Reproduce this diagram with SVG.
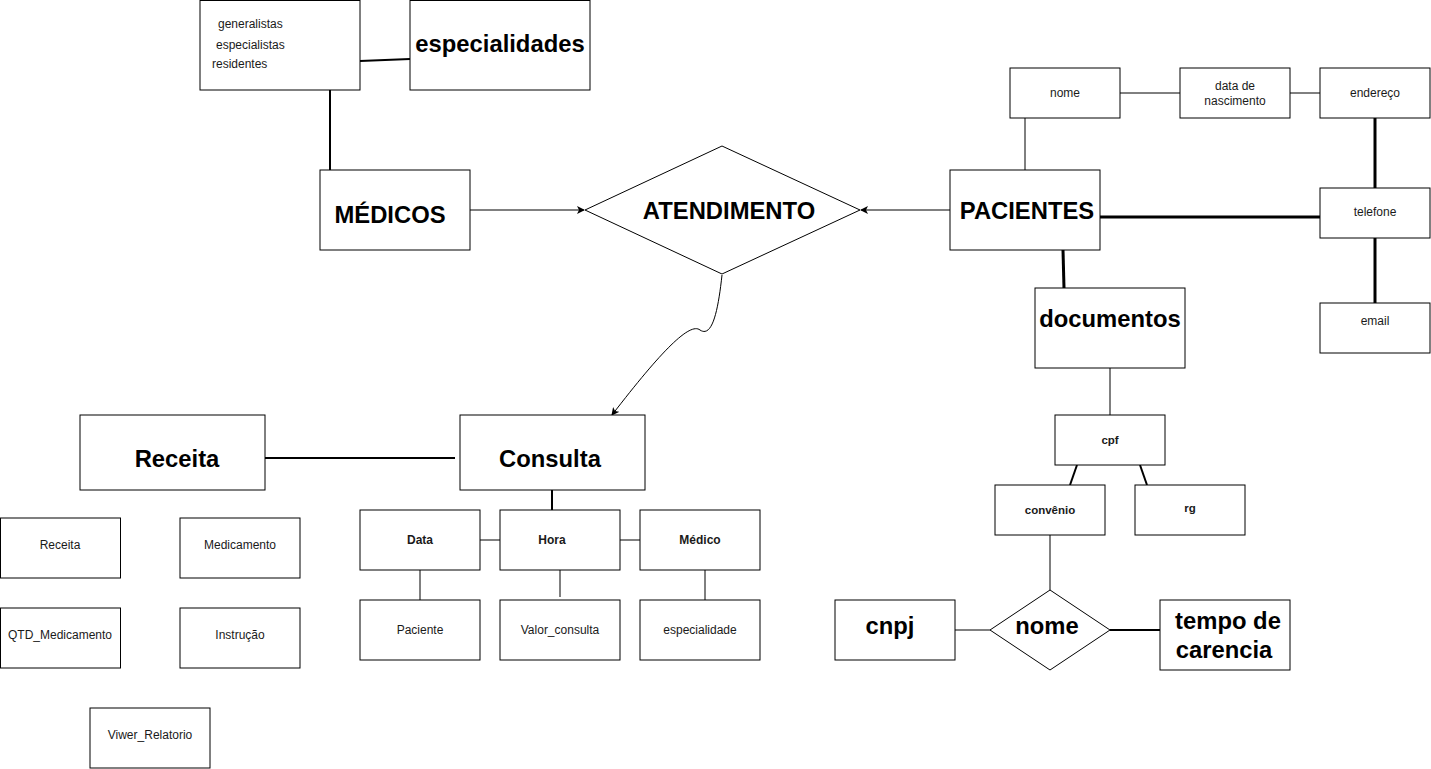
<svg xmlns="http://www.w3.org/2000/svg" width="1431" height="769" viewBox="0 0 1431 769">
<style>
.b{fill:#fff;stroke:#000;stroke-width:1}
.t{font-family:"Liberation Sans",Arial,sans-serif;font-size:12px;fill:#1a1a1a;text-anchor:middle;dominant-baseline:central}
.tb{font-family:"Liberation Sans",Arial,sans-serif;font-size:12px;font-weight:bold;fill:#1a1a1a;text-anchor:middle;dominant-baseline:central}
.ts{font-family:"Liberation Sans",Arial,sans-serif;font-size:11.5px;font-weight:bold;fill:#1a1a1a;text-anchor:middle;dominant-baseline:central}
.tl{font-family:"Liberation Sans",Arial,sans-serif;font-size:23.8px;font-weight:bold;fill:#000;text-anchor:middle;dominant-baseline:central}
.c1{stroke:#000;stroke-width:1;fill:none}
.c2{stroke:#000;stroke-width:2;fill:none}
.c3{stroke:#000;stroke-width:3;fill:none}
</style>
<defs>
<marker id="arr" markerWidth="8" markerHeight="8" refX="7" refY="4" orient="auto" markerUnits="userSpaceOnUse">
<path d="M0,0 L8,4 L0,8 L2,4 Z" fill="#000"/>
</marker>
</defs>
<rect width="1431" height="769" fill="#fff"/>
<g id="connectors">
<line class="c2" x1="360" y1="61" x2="410" y2="59"/>
<line class="c2" x1="330" y1="90" x2="330" y2="170"/>
<line class="c1" x1="470" y1="210" x2="584" y2="210" marker-end="url(#arr)"/>
<line class="c1" x1="950" y1="210" x2="861" y2="210" marker-end="url(#arr)"/>
<path class="c1" d="M722,275 C718,312 712,338 700,330 C690,322 662,350 612,415" marker-end="url(#arr)"/>
<line class="c1" x1="1120" y1="93" x2="1180" y2="93"/>
<line class="c1" x1="1290" y1="93" x2="1320" y2="93"/>
<line class="c1" x1="1025" y1="118" x2="1025" y2="170"/>
<line class="c3" x1="1375" y1="118" x2="1375" y2="188"/>
<line class="c3" x1="1100" y1="217" x2="1320" y2="217"/>
<line class="c3" x1="1375" y1="238" x2="1375" y2="303"/>
<line class="c3" x1="1063" y1="250" x2="1064" y2="288"/>
<line class="c1" x1="1110" y1="368" x2="1110" y2="415"/>
<line class="c2" x1="1077" y1="465" x2="1070" y2="485"/>
<line class="c2" x1="1140" y1="465" x2="1147" y2="485"/>
<line class="c1" x1="1050" y1="535" x2="1050" y2="590"/>
<line class="c1" x1="955" y1="630" x2="990" y2="630"/>
<line class="c2" x1="1110" y1="630" x2="1160" y2="630"/>
<line class="c2" x1="265" y1="458" x2="455" y2="458"/>
<line class="c2" x1="552" y1="490" x2="552" y2="510"/>
<line class="c1" x1="480" y1="540" x2="500" y2="540"/>
<line class="c1" x1="620" y1="540" x2="640" y2="540"/>
<line class="c1" x1="420" y1="570" x2="420" y2="600"/>
<line class="c1" x1="560" y1="570" x2="560" y2="597"/>
<line class="c1" x1="705" y1="570" x2="705" y2="600"/>
</g>
<g id="tipos">
<rect class="b" x="200" y="0.5" width="160" height="89.5"/>
<text class="t" x="218" y="24" style="text-anchor:start">generalistas</text>
<text class="t" x="216" y="45" style="text-anchor:start">especialistas</text>
<text class="t" x="212" y="64" style="text-anchor:start">residentes</text>
</g>
<g id="especialidades">
<rect class="b" x="410" y="0.5" width="180" height="89.5"/>
<text class="tl" x="500" y="43">especialidades</text>
</g>
<g id="medicos">
<rect class="b" x="320" y="170" width="150" height="80"/>
<text class="tl" x="390" y="214">MÉDICOS</text>
</g>
<g id="atendimento">
<polygon class="b" points="585,210 722,146 860,210 722,274"/>
<text class="tl" x="729" y="210">ATENDIMENTO</text>
</g>
<g id="pacientes">
<rect class="b" x="950" y="170" width="150" height="80"/>
<text class="tl" x="1027" y="210">PACIENTES</text>
</g>
<g id="nome">
<rect class="b" x="1010" y="68" width="110" height="50"/>
<text class="t" x="1065" y="93">nome</text>
</g>
<g id="nascimento">
<rect class="b" x="1180" y="68" width="110" height="50"/>
<text class="t" x="1235" y="86">data de</text>
<text class="t" x="1235" y="101">nascimento</text>
</g>
<g id="endereco">
<rect class="b" x="1320" y="68" width="110" height="50"/>
<text class="t" x="1375" y="93">endereço</text>
</g>
<g id="telefone">
<rect class="b" x="1320" y="188" width="110" height="50"/>
<text class="t" x="1375" y="212">telefone</text>
</g>
<g id="email">
<rect class="b" x="1320" y="303" width="110" height="50"/>
<text class="t" x="1375" y="321">email</text>
</g>
<g id="documentos">
<rect class="b" x="1035" y="288" width="150" height="80"/>
<text class="tl" x="1110" y="318">documentos</text>
</g>
<g id="cpf">
<rect class="b" x="1055" y="415" width="110" height="50"/>
<text class="ts" x="1110" y="440">cpf</text>
</g>
<g id="convenio">
<rect class="b" x="995" y="485" width="110" height="50"/>
<text class="ts" x="1050" y="510">convênio</text>
</g>
<g id="rg">
<rect class="b" x="1135" y="485" width="110" height="50"/>
<text class="ts" x="1190" y="508">rg</text>
</g>
<g id="nome-convenio">
<polygon class="b" points="990,630 1050,590 1110,630 1050,670"/>
<text class="tl" x="1047" y="625">nome</text>
</g>
<g id="cnpj">
<rect class="b" x="835" y="600" width="120" height="60"/>
<text class="tl" x="890" y="625">cnpj</text>
</g>
<g id="carencia">
<rect class="b" x="1160" y="600" width="130" height="70"/>
<text class="tl" x="1228" y="620">tempo de</text>
<text class="tl" x="1224" y="649">carencia</text>
</g>
<g id="receita">
<rect class="b" x="80" y="415" width="185" height="75"/>
<text class="tl" x="177" y="458">Receita</text>
</g>
<g id="consulta">
<rect class="b" x="460" y="415" width="185" height="75"/>
<text class="tl" x="550" y="458">Consulta</text>
</g>
<g id="data">
<rect class="b" x="360" y="510" width="120" height="60"/>
<text class="tb" x="420" y="540">Data</text>
</g>
<g id="hora">
<rect class="b" x="500" y="510" width="120" height="60"/>
<text class="tb" x="552" y="540">Hora</text>
</g>
<g id="medico">
<rect class="b" x="640" y="510" width="120" height="60"/>
<text class="tb" x="700" y="540">Médico</text>
</g>
<g id="paciente">
<rect class="b" x="360" y="600" width="120" height="60"/>
<text class="t" x="420" y="630">Paciente</text>
</g>
<g id="valor">
<rect class="b" x="500" y="600" width="120" height="60"/>
<text class="t" x="560" y="630">Valor_consulta</text>
</g>
<g id="especialidade">
<rect class="b" x="640" y="600" width="120" height="60"/>
<text class="t" x="700" y="630">especialidade</text>
</g>
<g id="receita-attr">
<rect class="b" x="0.5" y="518" width="120" height="60"/>
<text class="t" x="60" y="545">Receita</text>
</g>
<g id="medicamento">
<rect class="b" x="180" y="518" width="120" height="60"/>
<text class="t" x="240" y="545">Medicamento</text>
</g>
<g id="qtd">
<rect class="b" x="0.5" y="608" width="120" height="60"/>
<text class="t" x="60" y="635">QTD_Medicamento</text>
</g>
<g id="instrucao">
<rect class="b" x="180" y="608" width="120" height="60"/>
<text class="t" x="240" y="635">Instrução</text>
</g>
<g id="viwer">
<rect class="b" x="90" y="708" width="120" height="60"/>
<text class="t" x="150" y="735">Viwer_Relatorio</text>
</g>
</svg>
